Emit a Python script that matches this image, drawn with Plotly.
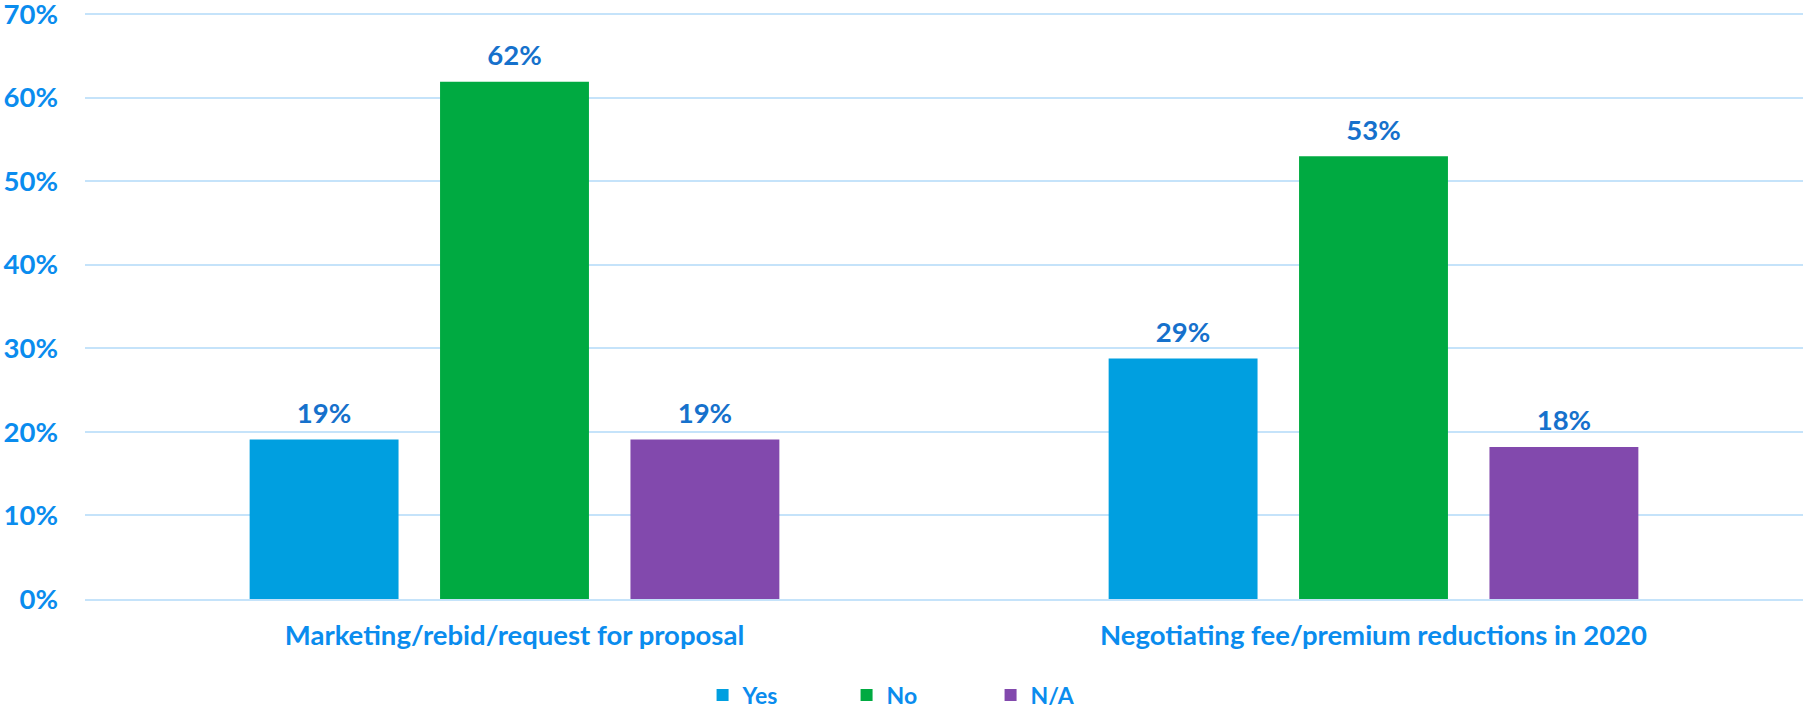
import plotly.graph_objects as go

categories = ["Marketing/rebid/request for proposal", "Negotiating fee/premium reductions in 2020"]
series_names = ["Yes", "No", "N/A"]
yes_vals = [19.1, 28.8]
no_vals = [61.9, 53.0]
na_vals = [19.1, 18.2]
colors = ["#009FE0", "#00AA41", "#8249AD"]
tick_vals = [0, 10, 20, 30, 40, 50, 60, 70]
tick_text = [f"{v}%" for v in tick_vals]

FONT = "Lato, 'Open Sans', sans-serif"
TICK_BLUE = "#0A8CEE"
LABEL_BLUE = "#1671CC"
FS = 27.5
LEG_FS = 23
LABEL_GAP = 0.9  # spacer (in axis units) between bar top and its label

fig = go.Figure()
for name, vals, col in zip(series_names, [yes_vals, no_vals, na_vals], colors):
    fig.add_trace(go.Bar(
        name=name, x=categories, y=vals, marker_color=col,
        marker_line_width=0, offsetgroup=name, hoverinfo="x+y+name",
    ))
    # invisible spacer bar carrying the value label just above the bar
    fig.add_trace(go.Bar(
        x=categories, y=[LABEL_GAP] * len(vals), base=vals, offsetgroup=name,
        marker_color="rgba(0,0,0,0)", marker_line_width=0, showlegend=False,
        hoverinfo="skip",
        text=[f"{round(v)}%" for v in vals], textposition="outside",
        textfont=dict(family=FONT, size=FS, color=LABEL_BLUE, weight="bold"),
        cliponaxis=False,
    ))

fig.update_layout(
    width=1803, height=711,
    margin=dict(l=85, r=0, t=10, b=112, autoexpand=False),
    paper_bgcolor="white", plot_bgcolor="white",
    barmode="group", bargap=0.335, bargroupgap=0.218,
    font=dict(family=FONT, color=TICK_BLUE, size=FS, weight="bold"),
    showlegend=True,
    legend=dict(orientation="h", x=0.4852, xanchor="center", y=-0.163, yanchor="middle",
                font=dict(family=FONT, size=LEG_FS, color=TICK_BLUE, weight="bold"),
                entrywidth=99, itemsizing="constant"),
    uniformtext=dict(minsize=FS, mode="show"),
)
fig.update_yaxes(range=[0, 70.5], tickvals=tick_vals, ticktext=tick_text,
                 showgrid=True, gridcolor="#C5E3FA", gridwidth=2,
                 zeroline=False, showline=False, ticks="", automargin=False,
                 ticklabelstandoff=26, ticklabeloverflow="allow",
                 tickfont=dict(family=FONT, size=FS, color=TICK_BLUE, weight="bold"))
fig.update_xaxes(showline=True, linecolor="#C5E3FA", linewidth=2, ticks="",
                 automargin=False, ticklabelstandoff=11,
                 tickfont=dict(family=FONT, size=FS, color=TICK_BLUE, weight="bold"))

fig.write_html("out.html")
